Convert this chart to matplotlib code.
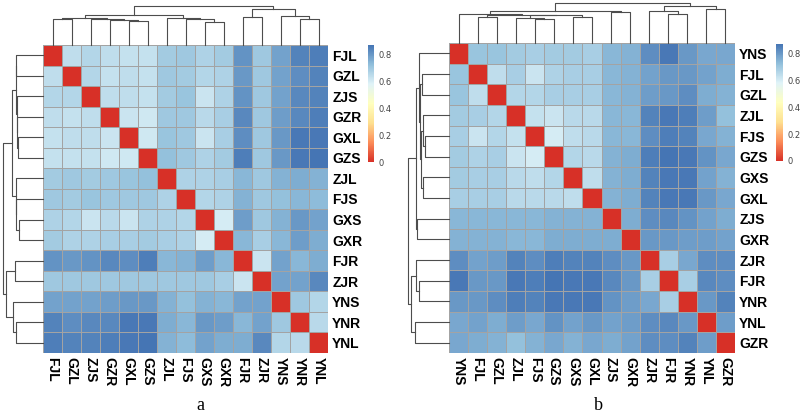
import numpy as np
import matplotlib
matplotlib.use('Agg')
import matplotlib.pyplot as plt
from matplotlib.colors import LinearSegmentedColormap

# panel a: labels in display order, upper triangle of the distance matrix
labels_a = ['FJL', 'GZL', 'ZJS', 'GZR', 'GXL', 'GZS', 'ZJL', 'FJS', 'GXS', 'GXR',
            'FJR', 'ZJR', 'YNS', 'YNR', 'YNL']
upper_a = [
    [.64, .66, .64, .63, .63, .69, .70, .67, .69, .81, .70, .78, .84, .85],
    [.66, .63, .64, .63, .70, .69, .66, .67, .80, .70, .78, .82, .84],
    [.64, .64, .63, .69, .71, .62, .67, .81, .70, .78, .83, .84],
    [.62, .61, .70, .70, .65, .68, .83, .70, .79, .83, .85],
    [.61, .71, .70, .62, .68, .82, .70, .80, .86, .86],
    [.72, .70, .67, .69, .85, .70, .80, .86, .87],
    [.67, .67, .68, .74, .70, .75, .76, .75],
    [.66, .67, .75, .70, .72, .74, .73],
    [.60, .79, .70, .75, .80, .78],
    [.74, .68, .74, .79, .76],
    [.62, .78, .74, .76],
    [.78, .78, .83],
    [.70, .66],
    [.65],
]
# merges: (left, right, height), leaves are positions in labels_a
tree_a = ((((0, 1, 26.0), (2, (3, (4, 5, 24.0), 25.0), 25.5), 26.8),
           (6, (7, (8, 9, 23.3), 26.0), 26.7), 30.3),
          ((10, 11, 27.7), (12, (13, 14, 26.0), 29.0), 36.0), 39.3)

# panel b
labels_b = ['YNS', 'FJL', 'GZL', 'ZJL', 'FJS', 'GZS', 'GXS', 'GXL', 'ZJS', 'GXR',
            'ZJR', 'FJR', 'YNR', 'YNL', 'GZR']
upper_b = [
    [.71, .71, .69, .68, .69, .69, .68, .74, .75, .82, .86, .80, .77, .77],
    [.64, .68, .62, .67, .68, .68, .74, .75, .78, .80, .80, .78, .76],
    [.66, .66, .68, .68, .68, .74, .75, .79, .80, .82, .76, .75],
    [.63, .62, .65, .65, .74, .74, .84, .86, .85, .79, .72],
    [.60, .64, .65, .74, .74, .82, .85, .84, .77, .75],
    [.66, .65, .75, .76, .85, .87, .86, .81, .77],
    [.64, .75, .76, .84, .86, .86, .78, .75],
    [.75, .76, .84, .86, .86, .80, .77],
    [.76, .82, .83, .81, .78, .76],
    [.80, .80, .79, .79, .78],
    [.68, .77, .82, .82],
    [.68, .83, .82],
    [.80, .84],
    [.79],
]
tree_b = (((0, ((1, 2, 26.3), ((3, (4, 5, 23.7), 25.3), (6, 7, 25.7), 27.7), 28.3), 29.0),
           (8, 9, 31.5), 32.5),
          ((10, (11, 12, 29.0), 32.3), (13, 14, 33.7), 37.0), 40.3)

cmap = LinearSegmentedColormap.from_list(
    'rdylbu', ['#D73027', '#FC8D59', '#FEE090', '#FFFFBF', '#E0F3F8', '#91BFDB', '#4575B4'], 256)
lab_font = ['Liberation Sans Narrow', 'Liberation Sans']
W, H = 800, 418


def box(x0, y0, x1, y1):
    return [x0 / W, 1 - y1 / H, (x1 - x0) / W, (y1 - y0) / H]


def full_matrix(upper):
    n = len(upper) + 1
    m = np.zeros((n, n))
    for i, row in enumerate(upper):
        m[i, i + 1:] = row
    return m + m.T


def draw_tree(ax, node, top):
    if isinstance(node, int):
        return node + 0.5, 0.0
    l, r, h = node
    xl, hl = draw_tree(ax, l, top)
    xr, hr = draw_tree(ax, r, top)
    if top:
        ax.plot([xl, xl, xr, xr], [hl, h, h, hr], color='#4d4d4d', lw=0.8, clip_on=False)
    else:
        ax.plot([hl, h, h, hr], [xl, xl, xr, xr], color='#4d4d4d', lw=0.8, clip_on=False)
    return (xl + xr) / 2, h


def panel(fig, labels, upper, tree, heat_box, top_box, left_box, cbar_box):
    mat = full_matrix(upper)
    n = len(labels)
    ax = fig.add_axes(box(*heat_box))
    mesh = ax.pcolormesh(mat, cmap=cmap, vmin=0, vmax=mat.max(),
                         edgecolors='#a3a3a3', linewidth=0.6)
    ax.set_xlim(0, n)
    ax.set_ylim(n, 0)
    ax.set_xticks(np.arange(n) + 0.5)
    ax.set_xticklabels(labels, rotation=270, ha='center', va='top',
                       fontsize=10, fontweight='bold', family=lab_font)
    ax.set_yticks(np.arange(n) + 0.5)
    ax.set_yticklabels(labels, fontsize=10, fontweight='bold', family=lab_font)
    ax.yaxis.tick_right()
    ax.tick_params(length=0, pad=3)
    for s in ax.spines.values():
        s.set_visible(False)

    root = tree[2]
    axt = fig.add_axes(box(*top_box))
    draw_tree(axt, tree, True)
    axt.set_xlim(0, n)
    axt.set_ylim(0, root)
    axt.axis('off')

    axl = fig.add_axes(box(*left_box))
    draw_tree(axl, tree, False)
    axl.set_ylim(n, 0)
    axl.set_xlim(root, 0)
    axl.axis('off')

    cax = fig.add_axes(box(*cbar_box))
    cb = fig.colorbar(mesh, cax=cax, ticks=[0, 0.2, 0.4, 0.6, 0.8])
    cb.outline.set_visible(False)
    cb.ax.set_yticklabels(['0', '0.2', '0.4', '0.6', '0.8'])
    cb.ax.tick_params(length=0, pad=3, labelsize=6, labelcolor='#444444')


fig = plt.figure(figsize=(8, 4.18), dpi=100)
panel(fig, labels_a, upper_a, tree_a,
      (43, 45, 328, 353), (43, 5.7, 328, 45), (2.7, 45, 43, 353), (368, 45, 374, 162))
panel(fig, labels_b, upper_b, tree_b,
      (449, 43, 735, 353), (449, 2.7, 735, 43), (408, 43, 449, 353), (776, 44, 783, 161))

fig.text(200 / W, 1 - 405 / H, 'a', ha='center', va='center', fontsize=13, family='Liberation Serif')
fig.text(598 / W, 1 - 405 / H, 'b', ha='center', va='center', fontsize=13, family='Liberation Serif')

fig.savefig('out.png', dpi=100)
